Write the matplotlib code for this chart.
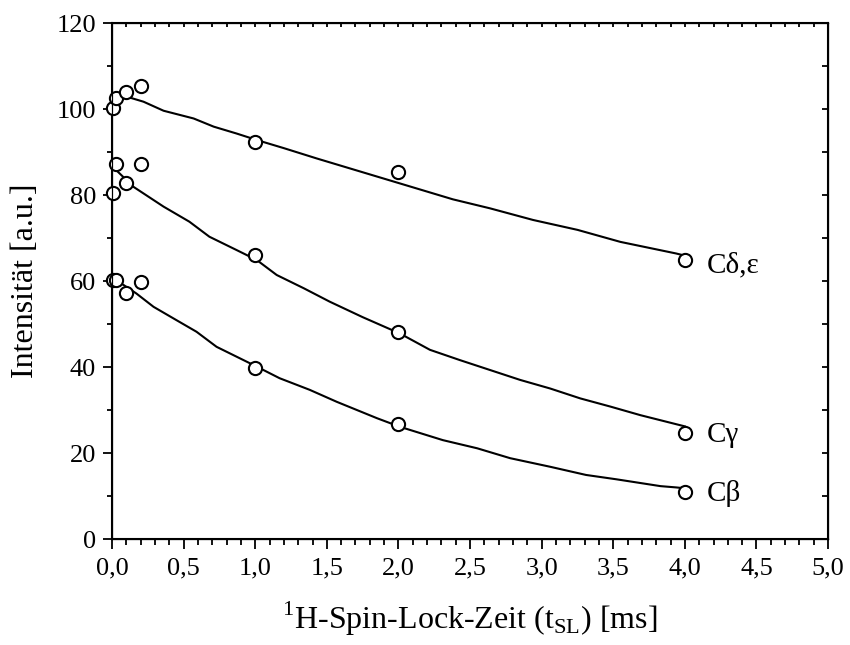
import matplotlib
matplotlib.use("Agg")
import matplotlib.pyplot as plt
from matplotlib.ticker import MultipleLocator, FuncFormatter

plt.rcParams['font.family'] = ['Liberation Serif', 'DejaVu Serif']
plt.rcParams['mathtext.fontset'] = 'custom'
plt.rcParams['mathtext.rm'] = 'Liberation Serif'

# measured intensities
t_meas = [0.005, 0.025, 0.1, 0.2, 1.0, 2.0, 4.0]
c_de = [100.3, 102.5, 104.0, 105.4, 92.3, 85.3, 64.9]
c_g = [80.4, 87.3, 82.9, 87.3, 66.0, 48.1, 24.6]
c_b = [60.2, 60.2, 57.1, 59.7, 39.8, 26.7, 11.0]

# fitted curves
t_fit_de = [0.03, 0.22, 0.36, 0.57, 0.71, 0.87, 1.01, 1.20, 1.43, 1.66, 1.85,
            2.01, 2.38, 2.64, 2.94, 3.25, 3.55, 3.94, 4.0]
fit_de = [103.6, 101.7, 99.6, 97.8, 95.9, 94.3, 92.8, 90.9, 88.5, 86.2, 84.3,
          82.7, 79.0, 76.9, 74.2, 71.9, 69.1, 66.4, 65.9]
t_fit_g = [0.01, 0.15, 0.36, 0.54, 0.68, 0.87, 1.01, 1.15, 1.34, 1.52, 1.75,
           2.01, 2.22, 2.43, 2.64, 2.85, 3.06, 3.27, 3.48, 3.69, 3.94, 4.0]
fit_g = [86.4, 81.9, 77.3, 73.8, 70.3, 67.2, 64.9, 61.4, 58.3, 55.2, 51.6,
         47.8, 44.0, 41.6, 39.3, 37.0, 35.0, 32.7, 30.8, 28.8, 26.7, 26.2]
t_fit_b = [0.03, 0.17, 0.29, 0.45, 0.59, 0.73, 0.87, 1.01, 1.17, 1.38, 1.57,
           1.85, 2.01, 2.31, 2.55, 2.78, 3.06, 3.31, 3.52, 3.83, 3.94, 4.0]
fit_b = [60.2, 57.1, 54.0, 50.9, 48.2, 44.7, 42.4, 40.1, 37.4, 34.7, 31.9,
         28.1, 26.1, 23.0, 21.1, 18.8, 16.8, 14.9, 13.9, 12.3, 12.0, 11.8]

labels = ["Cδ,ε", "Cγ", "Cβ"]
label_x = [4.15, 4.15, 4.15]
label_y = [63.7, 24.2, 10.7]

fig = plt.figure(figsize=(8.5, 6.45), dpi=100)
ax = fig.add_axes([0.1318, 0.1643, 0.8424, 0.8])

for tf, yf, ym in [(t_fit_de, fit_de, c_de), (t_fit_g, fit_g, c_g), (t_fit_b, fit_b, c_b)]:
    ax.plot(tf, yf, color='black', lw=1.5, zorder=2)
    ax.plot(t_meas, ym, 'o', ms=9.5, mfc='white', mec='black', mew=1.5,
            zorder=3, clip_on=False)

for lab, lx, ly in zip(labels, label_x, label_y):
    ax.text(lx, ly, lab, fontsize=21, va='center', ha='left')

ax.set_xlim(0, 5)
ax.set_ylim(0, 120)
ax.xaxis.set_major_locator(MultipleLocator(0.5))
ax.xaxis.set_minor_locator(MultipleLocator(0.1))
ax.yaxis.set_major_locator(MultipleLocator(20))
ax.yaxis.set_minor_locator(MultipleLocator(10))
ax.xaxis.set_major_formatter(FuncFormatter(lambda v, p: f"{v:.1f}".replace('.', ',')))
ax.yaxis.set_major_formatter(FuncFormatter(lambda v, p: f"{v:.0f}"))

for s in ax.spines.values():
    s.set_linewidth(1.5)

ax.tick_params(which='both', direction='out', width=1.3, labelsize=19,
               top=False, right=False)
ax.tick_params(axis='x', which='major', length=7.5, pad=6)
ax.tick_params(axis='x', which='minor', length=4.5)
ax.tick_params(axis='y', which='major', length=6.5, pad=5)
ax.tick_params(axis='y', which='minor', length=3.5)

# inward ticks on the top and right edges
axt = ax.twiny()
axt.set_xlim(ax.get_xlim())
axt.xaxis.set_major_locator(MultipleLocator(0.1))
axt.tick_params(direction='in', length=3, width=1.3, labeltop=False)
axr = ax.twinx()
axr.set_ylim(ax.get_ylim())
axr.yaxis.set_major_locator(MultipleLocator(10))
axr.tick_params(direction='in', length=4, width=1.3, labelright=False)

ax.set_xlabel(r"$^{1}$H-Spin-Lock-Zeit (t$_{\mathrm{SL}}$) [ms]", fontsize=23, labelpad=14)
ax.set_ylabel("Intensität [a.u.]", fontsize=23, labelpad=12)

fig.savefig("out.png", dpi=100)
